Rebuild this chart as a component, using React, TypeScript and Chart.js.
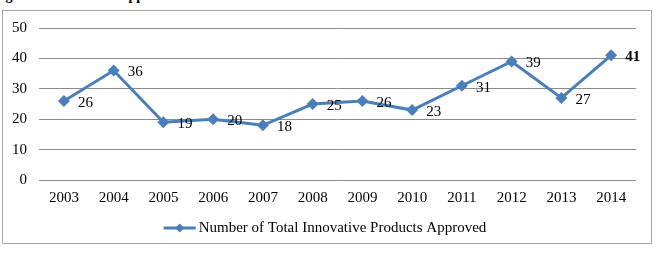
import React, { useEffect, useRef } from "react";
import { Chart, registerables } from "chart.js";

Chart.register(...registerables);

const years = ["2003", "2004", "2005", "2006", "2007", "2008", "2009", "2010", "2011", "2012", "2013", "2014"];
const approved = [26, 36, 19, 20, 18, 25, 26, 23, 31, 39, 27, 41];
const seriesName = "Number of Total Innovative Products Approved";
const yTicks = [0, 10, 20, 30, 40, 50];
const titleText = "Figure 1: Number of Approved Innovative Products";

const BLUE = "#4a7ebb";
const FONT = "'Liberation Serif', 'Times New Roman', serif";

export default function App() {
  const ref = useRef<HTMLCanvasElement | null>(null);

  useEffect(() => {
    if (!ref.current) return;
    const framePlugin = {
      id: "frame",
      beforeDraw(chart: any) {
        const ctx = chart.ctx;
        ctx.save();
        ctx.fillStyle = "#ffffff";
        ctx.fillRect(2, 10, 649, 233);
        ctx.strokeStyle = "#a6a6a6";
        ctx.lineWidth = 1;
        ctx.strokeRect(2.5, 10.5, 649, 233);
        ctx.restore();
      },
    };
    const labelPlugin = {
      id: "labels",
      afterDatasetsDraw(chart: any) {
        const ctx = chart.ctx;
        const meta = chart.getDatasetMeta(0);
        ctx.save();
        ctx.fillStyle = "#000000";
        ctx.textAlign = "left";
        ctx.textBaseline = "middle";
        meta.data.forEach((pt: any, i: number) => {
          const last = i === approved.length - 1;
          ctx.font = (last ? "bold " : "") + "15px " + FONT;
          ctx.fillText(String(approved[i]), pt.x + 14, pt.y + 2);
        });
        ctx.restore();
      },
    };
    const legendPlugin = {
      id: "customLegend",
      afterDraw(chart: any) {
        const ctx = chart.ctx;
        ctx.save();
        ctx.font = "15px " + FONT;
        const tw = ctx.measureText(seriesName).width;
        const sample = 32;
        const gap = 3;
        const total = sample + gap + tw;
        const cx = 325;
        const x0 = cx - total / 2;
        const y = 228;
        ctx.strokeStyle = BLUE;
        ctx.lineWidth = 3;
        ctx.beginPath();
        ctx.moveTo(x0, y);
        ctx.lineTo(x0 + sample, y);
        ctx.stroke();
        const mx = x0 + sample / 2;
        ctx.fillStyle = BLUE;
        ctx.beginPath();
        ctx.moveTo(mx, y - 4.5);
        ctx.lineTo(mx + 4.5, y);
        ctx.lineTo(mx, y + 4.5);
        ctx.lineTo(mx - 4.5, y);
        ctx.closePath();
        ctx.fill();
        ctx.fillStyle = "#000000";
        ctx.textAlign = "left";
        ctx.textBaseline = "middle";
        ctx.fillText(seriesName, x0 + sample + gap, y);
        ctx.restore();
      },
    };

    const chart = new Chart(ref.current, {
      type: "line",
      data: {
        labels: years,
        datasets: [
          {
            label: seriesName,
            data: approved,
            borderColor: BLUE,
            backgroundColor: BLUE,
            borderWidth: 3,
            pointStyle: "rectRot",
            pointRadius: 6,
            pointHoverRadius: 6,
            pointBackgroundColor: BLUE,
            pointBorderColor: BLUE,
            pointBorderWidth: 0,
            tension: 0,
          },
        ],
      },
      options: {
        animation: false,
        responsive: false,
        maintainAspectRatio: false,
        layout: { padding: { left: 0, right: 21, top: 28, bottom: 45 } },
        plugins: {
          legend: { display: false },
          tooltip: { enabled: false },
        },
        scales: {
          x: {
            type: "category",
            offset: true,
            grid: { display: false, drawTicks: false },
            border: { display: false },
            ticks: {
              color: "#000000",
              font: { family: FONT, size: 15 },
              padding: 9,
              maxRotation: 0,
              autoSkip: false,
            },
            afterFit(scale: any) {
              scale.height = 30;
            },
          },
          y: {
            min: 0,
            max: 50,
            afterBuildTicks(scale: any) {
              scale.ticks = yTicks.map((v) => ({ value: v }));
            },
            grid: { color: "#8c8c8c", lineWidth: 1, drawTicks: false },
            border: { display: false },
            ticks: {
              color: "#000000",
              font: { family: FONT, size: 15 },
              padding: 12,
            },
            afterFit(scale: any) {
              scale.width = 39;
            },
          },
        },
      },
      plugins: [framePlugin, labelPlugin, legendPlugin],
    });
    return () => chart.destroy();
  }, []);

  return (
    <div style={{ position: "fixed", left: 0, top: 0, width: 657, height: 255, background: "#fff", overflow: "hidden" }}>
      <div
        style={{
          position: "absolute",
          left: -7,
          top: -11,
          fontFamily: FONT,
          fontWeight: "bold",
          fontSize: 14,
          lineHeight: "14px",
          whiteSpace: "nowrap",
          color: "#000",
        }}
      >
        {titleText}
      </div>
      <canvas ref={ref} width={657} height={255} style={{ position: "absolute", left: 0, top: 0 }} />
    </div>
  );
}
